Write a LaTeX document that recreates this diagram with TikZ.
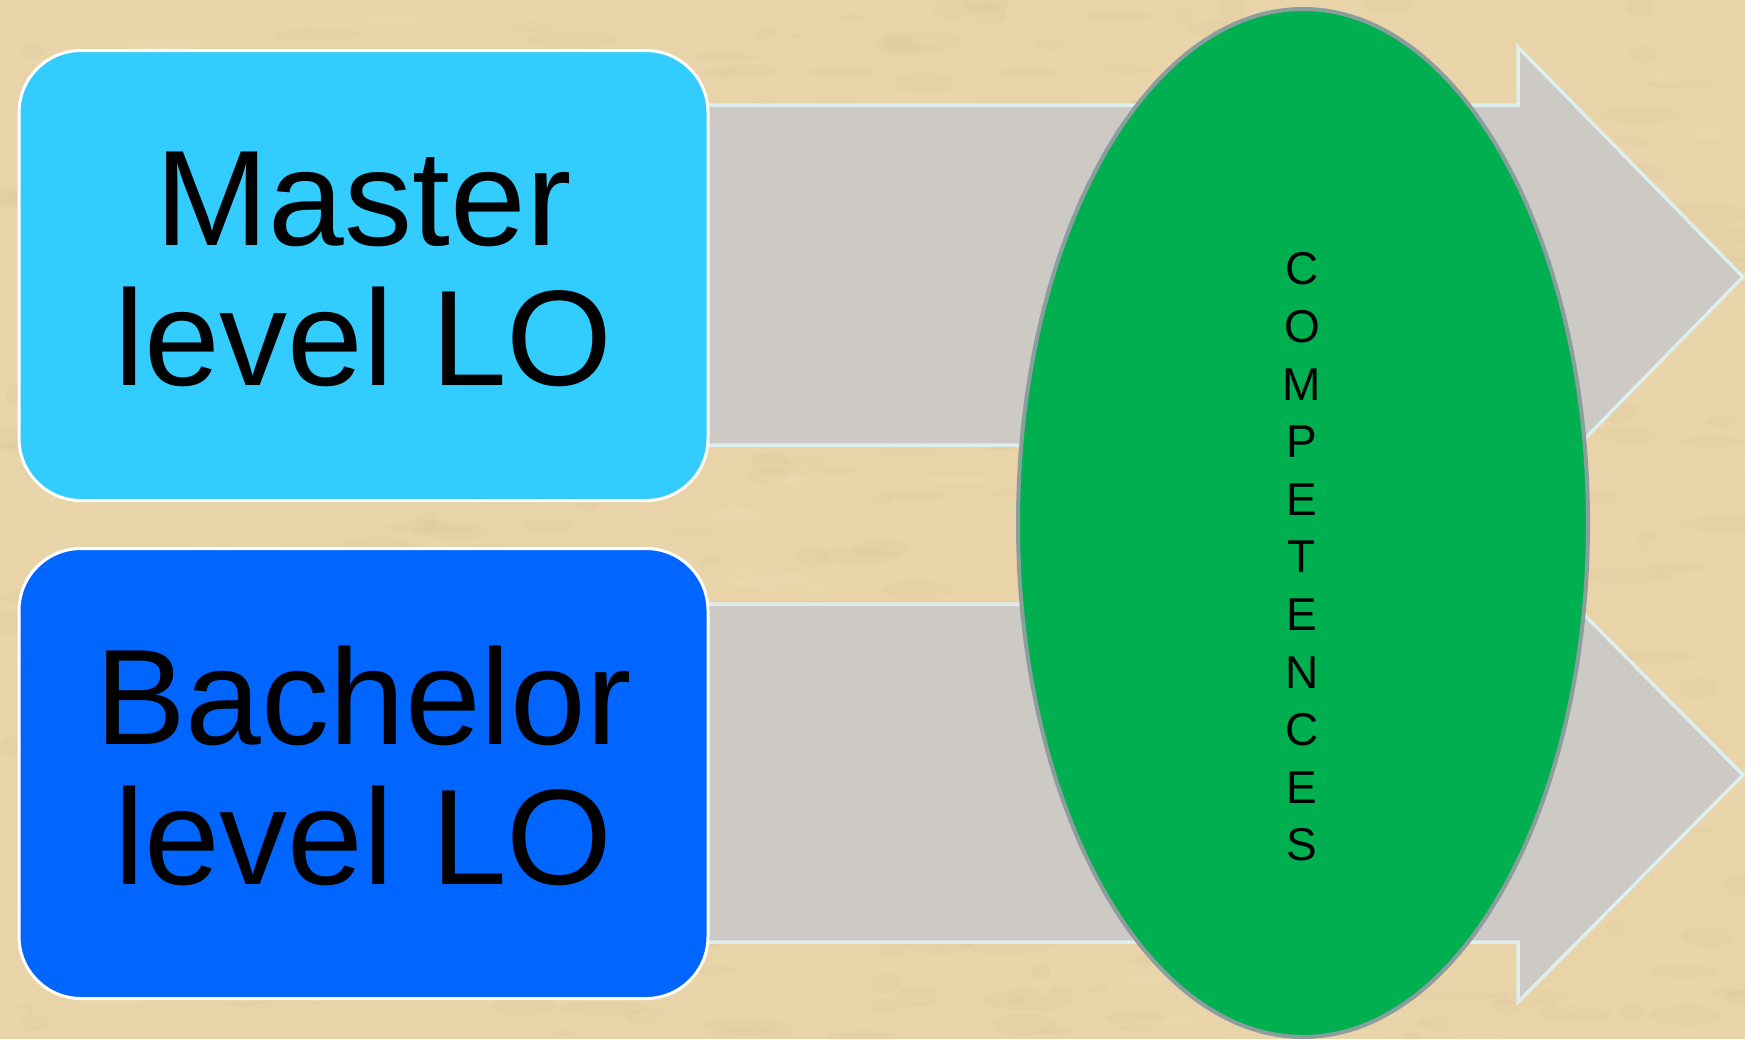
\documentclass[tikz,border=0pt]{standalone}
\usepackage{fontspec}
\setmainfont{Liberation Sans}
\usetikzlibrary{shapes.geometric}

\definecolor{parchment}{HTML}{E9D3A8}
\definecolor{parchdark}{HTML}{C9AE86}
\definecolor{parchlight}{HTML}{F7E6C2}
\definecolor{masterblue}{HTML}{33CCFF}
\definecolor{bachelorblue}{HTML}{0066FF}
\definecolor{compgreen}{HTML}{00B050}
\definecolor{compedge}{HTML}{8A9E9E}
\definecolor{arrowgray}{HTML}{CDC9C4}
\definecolor{arrowedge}{HTML}{DDEEEE}

\tikzset{
  lobox/.style={rectangle, rounded corners=62pt, draw=white, line width=3pt,
    minimum width=689pt, minimum height=450pt, inner sep=0pt,
    align=center, font=\fontsize{136}{140}\selectfont},
  bigarrow/.style={fill=arrowgray, draw=arrowedge, line width=3.5pt, line join=miter},
  compoval/.style={ellipse, fill=compgreen, draw=compedge, line width=4pt,
    minimum width=570pt, minimum height=1028pt, inner sep=0pt},
  vertletters/.style={align=center, font=\fontsize{46}{57.6}\selectfont}
}

\begin{document}
\begin{tikzpicture}[x=1pt, y=-1pt]
\useasboundingbox (0,0) rectangle (1745,1039);

% parchment background with fine mottling
\fill[parchment] (0,0) rectangle (1745,1039);
\pgfmathsetseed{7}
\begin{scope}
  \clip (0,0) rectangle (1745,1039);
  \foreach \i in {1,...,500} {
    \pgfmathsetmacro{\px}{rnd*1745}
    \pgfmathsetmacro{\py}{rnd*1039}
    \pgfmathsetmacro{\rx}{8+rnd*40}
    \pgfmathsetmacro{\ry}{3+rnd*9}
    \fill[parchdark, opacity=0.07] (\px,\py) ellipse [x radius=\rx, y radius=\ry];
  }
  \foreach \i in {1,...,400} {
    \pgfmathsetmacro{\px}{rnd*1745}
    \pgfmathsetmacro{\py}{rnd*1039}
    \pgfmathsetmacro{\rx}{8+rnd*40}
    \pgfmathsetmacro{\ry}{3+rnd*9}
    \fill[parchlight, opacity=0.12] (\px,\py) ellipse [x radius=\rx, y radius=\ry];
  }
\end{scope}

% two wide block arrows behind the boxes
\coordinate (mtip) at (1743,277);
\coordinate (btip) at (1743,775);
\draw[bigarrow] (700,105) -- (1518,105) -- (1518,47) -- (mtip)
  -- (1518,507) -- (1518,445) -- (700,445) -- cycle;
\draw[bigarrow] (700,604) -- (1518,604) -- (1518,548) -- (btip)
  -- (1518,1002) -- (1518,942) -- (700,942) -- cycle;

% learning outcome boxes
\node[lobox, fill=masterblue] (master) at (363.5,275.5) {};
\node[align=center, font=\fontsize{136}{140}\selectfont] (mastertext) at (363.5,269) {Master\\level LO};
\node[lobox, fill=bachelorblue] (bachelor) at (363.5,773.5) {};
\node[align=center, font=\fontsize{136}{140}\selectfont] (bachelortext) at (363.5,766) {Bachelor\\level LO};

% competences oval
\node[compoval] (comp) at (1303,523) {};
\node[vertletters] (complabel) at (1302,557) {C\\O\\M\\P\\E\\T\\E\\N\\C\\E\\S};
\end{tikzpicture}
\end{document}
